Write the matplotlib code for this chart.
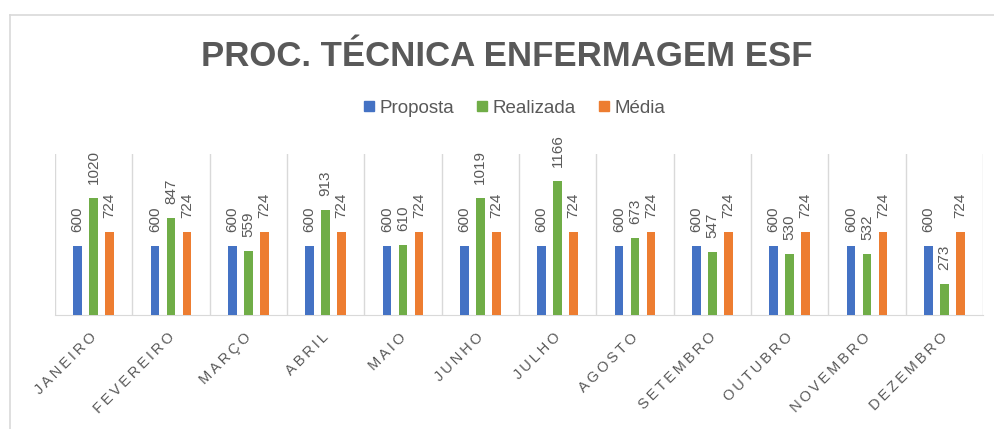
import matplotlib
matplotlib.use('Agg')
import matplotlib.pyplot as plt
import matplotlib.transforms as mtransforms
import numpy as np
from matplotlib.lines import Line2D

meses = ['JANEIRO', 'FEVEREIRO', 'MARÇO', 'ABRIL', 'MAIO', 'JUNHO', 'JULHO',
         'AGOSTO', 'SETEMBRO', 'OUTUBRO', 'NOVEMBRO', 'DEZEMBRO']
proposta = [600, 600, 600, 600, 600, 600, 600, 600, 600, 600, 600, 600]
realizada = [1020, 847, 559, 913, 610, 1019, 1166, 673, 547, 530, 532, 273]
media = [724, 724, 724, 724, 724, 724, 724, 724, 724, 724, 724, 724]

series = [('Proposta', proposta, '#4472C4'),
          ('Realizada', realizada, '#70AD47'),
          ('Média', media, '#ED7D31')]

TXT = '#595959'
FAM = ['Liberation Sans', 'DejaVu Sans']
SP = '\u2009'


def spaced(s):
    return SP.join(s)


fig = plt.figure(figsize=(9.95, 4.29), dpi=100)
W, H = 995, 429
ax = fig.add_axes([55 / W, 1 - 315 / H, (983 - 55) / W, (315 - 154) / H])

x = np.arange(len(meses))
width = 0.11
for i, (name, vals, color) in enumerate(series):
    off = (i - 1) * 0.207
    ax.bar(x + off, vals, width, color=color, zorder=3)
    for xi, v in zip(x, vals):
        ax.annotate(str(v), (xi + off, v), xytext=(0, 10), textcoords='offset points',
                    rotation=90, ha='center', va='bottom', fontsize=11,
                    color=TXT, family=FAM)

ax.set_xlim(-0.5, len(meses) - 0.5)
ax.set_ylim(0, 1400)
ax.set_yticks([])
for b in np.arange(-0.5, len(meses)):
    ax.axvline(b, color='#D9D9D9', lw=1, zorder=1)
for s in ['top', 'left', 'right']:
    ax.spines[s].set_visible(False)
ax.spines['bottom'].set_color('#D9D9D9')
ax.tick_params(axis='x', length=0, pad=11)
ax.set_xticks(x)
ax.set_xticklabels([spaced(m) for m in meses], rotation=45, ha='right',
                   rotation_mode='anchor', fontsize=10.5, color=TXT, family=FAM)
shift = mtransforms.ScaledTranslation(-4 / 100, 0, fig.dpi_scale_trans)
for lbl in ax.get_xticklabels():
    lbl.set_transform(lbl.get_transform() + shift)

fig.text(507 / W, 1 - 56 / H, 'PROC. TÉCNICA ENFERMAGEM ESF', ha='center', va='center',
         fontsize=25, fontweight='bold', color=TXT, family=FAM)

handles = [Line2D([], [], marker='s', ls='', color=c, markersize=7) for _, _, c in series]
fig.legend(handles, [n for n, _, _ in series], loc='center', bbox_to_anchor=(0.515, 1 - 108 / H),
           ncol=3, frameon=False, handletextpad=0.05, columnspacing=1.0, handlelength=1.0,
           labelcolor=TXT, prop={'family': FAM, 'size': 13.5})

fig.add_artist(Line2D([10 / W, 10 / W], [0, 1 - 15 / H], color='#D9D9D9', lw=1.2))
fig.add_artist(Line2D([10 / W, 1], [1 - 15 / H, 1 - 15 / H], color='#D9D9D9', lw=1.2))

fig.savefig('out.png', dpi=100)
